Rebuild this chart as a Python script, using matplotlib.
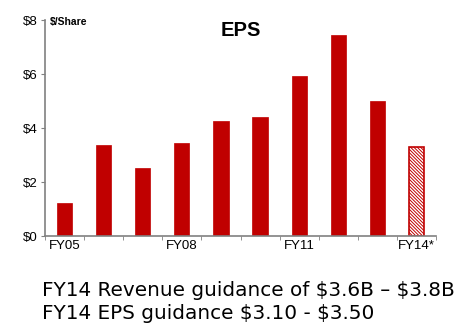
import matplotlib.pyplot as plt
import numpy as np

plt.rcParams['font.family'] = ['Liberation Sans', 'DejaVu Sans']
plt.rcParams['text.parse_math'] = False

years = ["FY05", "FY06", "FY07", "FY08", "FY09", "FY10", "FY11", "FY12", "FY13", "FY14*"]
eps = [1.21, 3.37, 2.52, 3.46, 4.27, 4.40, 5.91, 7.46, 4.99, 3.30]
labelled = ["FY05", "FY08", "FY11", "FY14*"]
yticks = [0, 2, 4, 6, 8]

red = "#C00000"
grey = "#808080"

fig = plt.figure(figsize=(4.63, 3.34), dpi=100)
ax = fig.add_axes([0.097, 0.293, 0.845, 0.647])

x = np.arange(len(years))
# actuals solid, guidance year hatched
ax.bar(x[:-1], eps[:-1], width=0.39, color=red, edgecolor=red, linewidth=0.5)
plt.rcParams['hatch.color'] = red
plt.rcParams['hatch.linewidth'] = 0.7
ax.bar(x[-1], eps[-1], width=0.39, color="white", edgecolor=red, hatch="\\" * 10, linewidth=1.2)

ax.set_xlim(-0.5, len(years) - 0.5)
ax.set_ylim(0, 8)
ax.set_yticks(yticks)
ax.set_yticklabels([f"${v}" for v in yticks], fontsize=9.5)
ax.set_xticks([i for i, y in enumerate(years) if y in labelled])
ax.set_xticklabels(labelled, fontsize=9.5)
ax.tick_params(axis="x", length=0, pad=2.5)
ax.set_xticks(np.arange(-0.5, len(years)), minor=True)
ax.tick_params(axis="x", which="minor", length=3, color=grey, direction="out")
ax.tick_params(axis="y", length=3, color=grey, pad=2)

for s in ["top", "right"]:
    ax.spines[s].set_visible(False)
for s in ["left", "bottom"]:
    ax.spines[s].set_color(grey)
    ax.spines[s].set_linewidth(1.2)

fig.text(0.108, 0.935, "$/Share", fontsize=7.5, fontweight="bold", va="center")
fig.text(0.52, 0.91, "EPS", fontsize=14.5, fontweight="bold", ha="center", va="center")

notes = ["FY14 Revenue guidance of $3.6B \u2013 $3.8B", "FY14 EPS guidance $3.10 - $3.50"]
for i, line in enumerate(notes):
    fig.text(0.091, 1 - (296 + 23 * i) / 334, line, fontsize=14.4,
             family=["DejaVu Sans"], va="baseline")

fig.savefig("out.png", dpi=100)
